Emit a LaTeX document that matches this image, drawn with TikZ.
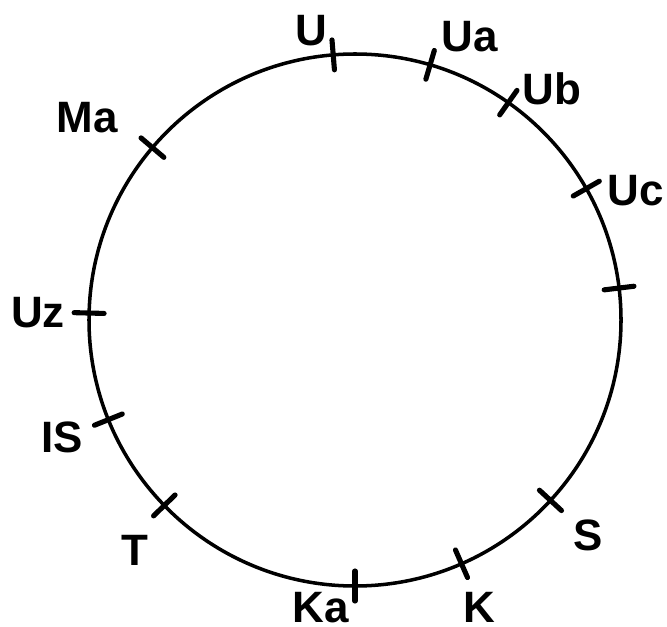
\documentclass[tikz,border=0pt]{standalone}
\usepackage{fontspec}
\setmainfont{Liberation Sans}
\usepackage{tikz}
\usetikzlibrary{arrows.meta}

\tikzset{lbl/.style={font=\fontsize{25}{30}\selectfont\bfseries,inner sep=0pt}}

\begin{document}
\begin{tikzpicture}
\useasboundingbox(0,0)rectangle(13.34,12.52);
\coordinate(c)at(7.1,6.12);
\draw[line width=2pt](c)circle[radius=5.32cm];
\foreach \a/\n in {94.7/u,73.6/ua,54.8/ub,29.6/uc,6.9/x,-42.7/s,-66.4/k,-90/ka,224.2/t,202/is,178.5/uz,139.6/ma}
{\draw[line width=2.9pt,line cap=round]([shift={(\a:5.02)}]c)--([shift={(\a:5.62)}]c);
\coordinate(\n)at([shift={(\a:5.32)}]c);}
\node[lbl](lu)at(6.22,11.90){U};
\node[lbl](lua)at(9.40,11.78){Ua};
\node[lbl](lub)at(11.04,10.74){Ub};
\node[lbl](luc)at(12.72,8.70){Uc};
\node[lbl](lma)at(1.75,10.16){Ma};
\node[lbl](luz)at(0.76,6.26){Uz};
\node[lbl](lis)at(1.24,3.78){IS};
\node[lbl](lt)at(2.70,1.52){T};
\node[lbl](lka)at(6.42,0.36){Ka};
\node[lbl](lk)at(9.58,0.38){K};
\node[lbl](ls)at(11.76,1.82){S};
\end{tikzpicture}
\end{document}
